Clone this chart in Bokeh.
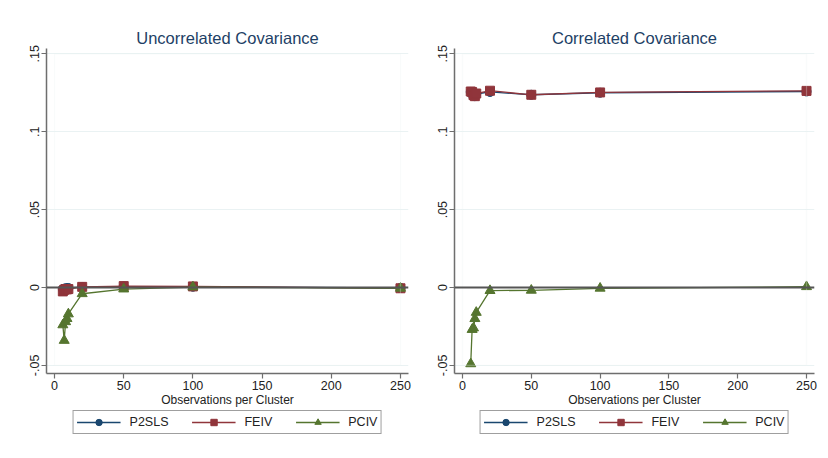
from bokeh.plotting import figure
from bokeh.layouts import row, column
from bokeh.models import (Range1d, FixedTicker, CustomJSTickFormatter, Span,
                          BoxAnnotation, Legend, LegendItem)
from bokeh.embed import file_html
from bokeh.resources import INLINE

# ---- data ----
obs = [6, 7, 8, 9, 10, 20, 50, 100, 250]

p2sls_uncorr = [-0.001, -0.0008, -0.0005, -0.0005, -0.0003, 0.0003, 0.0006, 0.0005, -0.0003]
feiv_uncorr = [-0.0025, -0.0015, -0.001, -0.0012, -0.001, 0.0004, 0.0009, 0.0007, -0.0005]
pciv_uncorr = [-0.024, -0.034, -0.022, -0.020, -0.017, -0.004, -0.001, 0.0003, -0.0005]

p2sls_corr = [0.1255, 0.124, 0.1232, 0.1228, 0.1242, 0.1255, 0.1237, 0.125, 0.1258]
feiv_corr = [0.1258, 0.1255, 0.1235, 0.1228, 0.1245, 0.1263, 0.1237, 0.1252, 0.1262]
pciv_corr = [-0.049, -0.027, -0.026, -0.020, -0.016, -0.002, -0.0018, -0.0005, 0.0005]

y_ticks = [-0.05, 0, 0.05, 0.1, 0.15]
x_ticks = [0, 50, 100, 150, 200, 250]
series_names = ["P2SLS", "FEIV", "PCIV"]
series_colors = ["#1a476f", "#90353b", "#55752f"]
series_markers = ["circle", "square", "triangle"]
marker_sizes = [9, 9, 10]

FONT = "Liberation Sans"


def make_panel(title, ys, left_border, frame_w, right_border):
    width = left_border + frame_w + right_border
    p = figure(width=width, height=410,
               x_range=Range1d(-5.8, 255.8), y_range=Range1d(-0.0552, 0.1534),
               output_backend="svg", toolbar_location=None,
               min_border_left=left_border, min_border_right=right_border,
               min_border_top=48, min_border_bottom=37,
               background_fill_color="white", border_fill_color="white",
               outline_line_color=None)
    p.title.text = title
    p.title.align = "center"
    p.title.text_font = FONT
    p.title.text_font_size = "16.5px"
    p.title.text_font_style = "normal"
    p.title.text_color = "#1e3f66"
    p.title.standoff = 4

    p.xgrid.visible = False
    p.ygrid.ticker = FixedTicker(ticks=y_ticks)
    p.ygrid.grid_line_color = "#eaf2f3"
    p.ygrid.grid_line_width = 1.2

    p.add_layout(BoxAnnotation(left=0, right=250, bottom=-0.05, top=0.15,
                               fill_alpha=0, line_color="#eaf2f3", line_width=1.2))

    p.yaxis.ticker = FixedTicker(ticks=y_ticks)
    p.yaxis.formatter = CustomJSTickFormatter(code="""
        var s = tick.toString();
        s = s.replace(/^0\\./, '.').replace(/^-0\\./, '-.');
        return s;""")
    p.yaxis.major_label_orientation = "vertical"
    p.xaxis.ticker = FixedTicker(ticks=x_ticks)
    p.xaxis.axis_label = "Observations per Cluster"

    for ax in (p.xaxis, p.yaxis):
        ax.axis_line_color = "#6e6e6e"
        ax.axis_line_width = 1.5
        ax.major_tick_line_color = "#6e6e6e"
        ax.major_tick_line_width = 1.2
        ax.major_tick_out = 5
        ax.major_tick_in = 0
        ax.minor_tick_line_color = None
        ax.major_label_text_font = FONT
        ax.major_label_text_font_size = "12.5px"
        ax.major_label_text_color = "#222222"
        ax.major_label_standoff = 2
        ax.axis_label_text_font = FONT
        ax.axis_label_text_font_size = "12px"
        ax.axis_label_text_font_style = "normal"
        ax.axis_label_text_color = "#222222"
        ax.axis_label_standoff = 0

    p.add_layout(Span(location=0, dimension="width", line_color="#555555",
                      line_width=1.8))

    for col, mk, ms, yv in zip(series_colors, series_markers, marker_sizes, ys):
        p.line(obs, yv, line_color=col, line_width=1.3)
        p.scatter(obs, yv, marker=mk, size=ms, fill_color=col, line_color=col)

    # legend strip below the panel (series drawn off-range, only the key shows)
    lg = figure(width=width, height=40, x_range=Range1d(-1000, -999),
                y_range=Range1d(-1000, -999),
                x_axis_type=None, y_axis_type=None,
                output_backend="svg", toolbar_location=None,
                min_border_left=left_border, min_border_right=right_border,
                min_border_top=0, min_border_bottom=0,
                background_fill_color="white", border_fill_color="white",
                outline_line_color=None)
    lg.xgrid.visible = False
    lg.ygrid.visible = False
    items = []
    for name, col, mk, ms, yv in zip(series_names, series_colors, series_markers,
                                     marker_sizes, ys):
        ln = lg.line(obs, yv, line_color=col, line_width=1.3)
        sc = lg.scatter(obs, yv, marker=mk, size=ms, fill_color=col, line_color=col)
        items.append(LegendItem(label=name, renderers=[ln, sc]))
    legend = Legend(items=items, orientation="horizontal", location="top_center")
    legend.label_text_font = FONT
    legend.label_text_font_size = "12.5px"
    legend.label_text_color = "#222222"
    legend.border_line_color = "#404040"
    legend.border_line_width = 1
    legend.background_fill_color = "white"
    legend.padding = 3
    legend.margin = 0
    legend.spacing = 23
    legend.glyph_width = 44
    legend.glyph_height = 16
    legend.label_standoff = 9
    legend.label_height = 16
    lg.add_layout(legend)
    return column(p, lg, spacing=0)


c1 = make_panel("Uncorrelated Covariance", [p2sls_uncorr, feiv_uncorr, pciv_uncorr],
                46, 362, 6)
c2 = make_panel("Correlated Covariance", [p2sls_corr, feiv_corr, pciv_corr],
                40, 360, 4)

layout = row(c1, c2, spacing=0)
open("out.html", "w").write(file_html(layout, INLINE))
